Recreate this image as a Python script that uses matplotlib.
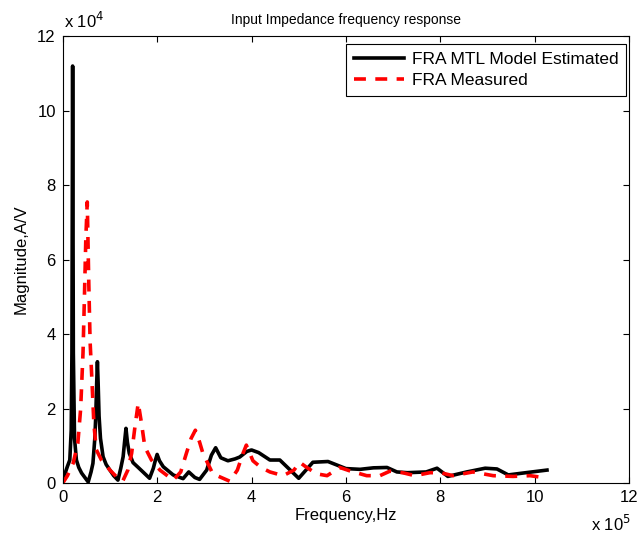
import matplotlib
matplotlib.use("Agg")
import matplotlib.pyplot as plt

plt.rcParams["font.family"] = ["Liberation Sans", "DejaVu Sans"]
plt.rcParams["font.size"] = 12

# frequency in units of 1e5 Hz, magnitude in units of 1e4 A/V
f_model = [0.0, 0.06, 0.10, 0.15, 0.18, 0.195, 0.21, 0.225, 0.25, 0.29, 0.34,
           0.40, 0.47, 0.54, 0.60, 0.64, 0.68, 0.70, 0.72, 0.735, 0.75, 0.77,
           0.80, 0.855, 0.92, 1.00, 1.08, 1.17, 1.23, 1.28, 1.31, 1.34, 1.37,
           1.41, 1.49, 1.60, 1.70, 1.84, 1.92, 1.96, 2.00, 2.05, 2.13, 2.34,
           2.55, 2.67, 2.80, 2.90, 3.05, 3.15, 3.24, 3.35, 3.50, 3.65, 3.75,
           3.90, 4.00, 4.15, 4.39, 4.60, 5.00, 5.30, 5.62, 6.00, 6.30, 6.58,
           6.87, 7.08, 7.30, 7.70, 7.93, 8.16, 8.56, 8.95, 9.20, 9.44, 9.75,
           10.26]
mag_model = [0.13, 0.3, 0.45, 0.62, 1.42, 3.5, 11.2, 3.5, 1.2, 0.62, 0.42,
             0.27, 0.15, 0.03, 0.3, 0.53, 1.2, 1.8, 2.7, 3.26, 2.7, 1.8,
             1.2, 0.71, 0.5, 0.35, 0.2, 0.08, 0.4, 0.71, 1.1, 1.47, 1.1,
             0.8, 0.55, 0.42, 0.3, 0.13, 0.4, 0.6, 0.77, 0.6, 0.44, 0.22,
             0.12, 0.3, 0.15, 0.1, 0.35, 0.75, 0.95, 0.68, 0.6, 0.65, 0.7,
             0.85, 0.89, 0.82, 0.62, 0.62, 0.13, 0.56, 0.58, 0.39, 0.37, 0.41,
             0.42, 0.3, 0.28, 0.3, 0.4, 0.18, 0.3, 0.4, 0.38, 0.22, 0.27,
             0.35]

f_meas = [0.0, 0.10, 0.22, 0.32, 0.38, 0.43, 0.46, 0.49, 0.52, 0.55, 0.58,
          0.61, 0.66, 0.71, 0.82, 1.00, 1.17, 1.27, 1.38, 1.46, 1.53, 1.60,
          1.67, 1.74, 1.88, 2.06, 2.34, 2.50, 2.62, 2.72, 2.81, 2.90, 2.97,
          3.18, 3.54, 3.70, 3.82, 3.89, 4.03, 4.20, 4.39, 4.67, 4.90, 5.02,
          5.17, 5.38, 5.60, 5.87, 6.08, 6.44, 6.72, 6.93, 7.20, 7.46, 7.78,
          8.00, 8.27, 8.69, 9.12, 9.54, 9.90, 10.18]
mag_meas = [0.0, 0.2, 0.53, 1.07, 2.0, 3.5, 5.0, 6.6, 7.55, 5.5, 3.8,
            3.0, 1.6, 0.9, 0.62, 0.35, 0.13, 0.05, 0.35, 0.8, 1.51, 2.15,
            1.6, 0.97, 0.62, 0.35, 0.08, 0.3, 0.8, 1.2, 1.42, 1.1, 0.8,
            0.25, 0.05, 0.35, 0.8, 1.02, 0.6, 0.42, 0.3, 0.2, 0.35, 0.56,
            0.42, 0.25, 0.2, 0.42, 0.33, 0.2, 0.2, 0.32, 0.28, 0.2, 0.28,
            0.28, 0.2, 0.3, 0.2, 0.18, 0.2, 0.15]

fig = plt.figure(figsize=(6.4, 5.41), dpi=100)
ax = fig.add_axes([0.098, 0.107, 0.885, 0.826])

ax.plot(f_model, mag_model, color="black", lw=2.6, label="FRA MTL Model Estimated")
ax.plot(f_meas, mag_meas, color="red", lw=2.6, ls=(0, (3.3, 2.6)), label="FRA Measured")

ax.set_xlim(0, 12)
ax.set_ylim(0, 12)
ax.set_xticks(range(0, 13, 2))
ax.set_yticks(range(0, 13, 2))
ax.tick_params(direction="in", top=True, right=True, length=4, labelsize=12, pad=5)
ax.set_xlabel("Frequency,Hz", labelpad=2)
ax.set_ylabel("Magnitude,A/V", labelpad=6)
ax.set_title("Input Impedance frequency response", fontsize=10, pad=9)

ax.text(0.003, 1.012, "x 10$^{4}$", transform=ax.transAxes, fontsize=12, va="bottom", ha="left")
ax.text(0.933, -0.07, "x 10$^{5}$", transform=ax.transAxes, fontsize=12, va="top", ha="left")

leg = ax.legend(loc="upper right", bbox_to_anchor=(0.995, 0.982), fancybox=False,
                edgecolor="black", framealpha=1, handlelength=2.9, handletextpad=0.45,
                borderaxespad=0, borderpad=0.45, labelspacing=0.35, fontsize=12.5)
leg.get_frame().set_linewidth(0.8)

fig.savefig("out.png", dpi=100)
